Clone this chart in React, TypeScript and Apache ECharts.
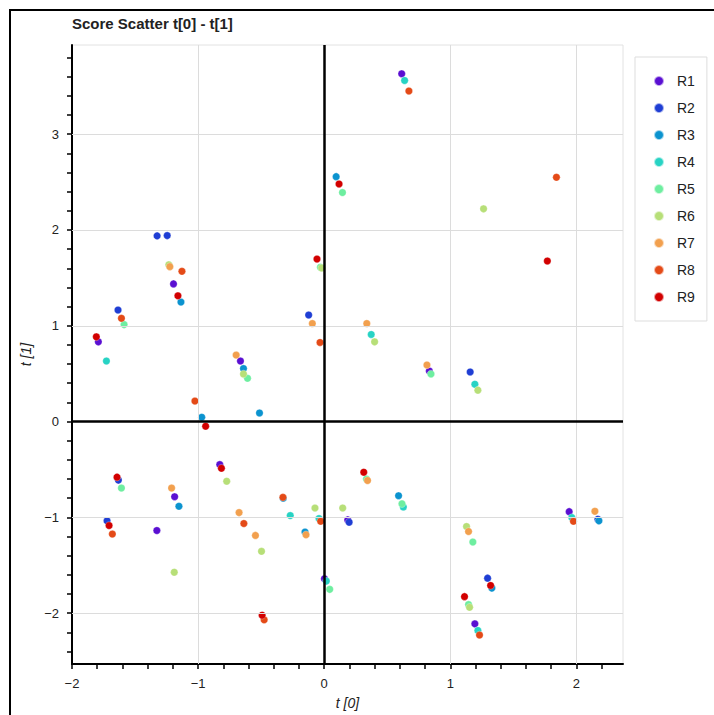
import React, { useEffect, useRef } from "react";
import * as echarts from "echarts";

const seriesNames = ["R1", "R2", "R3", "R4", "R5", "R6", "R7", "R8", "R9"];
const seriesColors = ["#5a0fd2", "#1f3ed4", "#0b93cf", "#27d3c4", "#6eeea0", "#b7df78", "#f2a04e", "#e44a17", "#d20000"];

const r1: number[][] = [[0.615, 3.63], [-1.195, 1.437], [-1.791, 0.832], [-0.664, 0.632], [0.834, 0.528], [-0.828, -0.449], [-1.186, -0.784], [-1.327, -1.137], [0.002, -1.641], [0.187, -1.026], [1.195, -2.111], [1.943, -0.94]];
const r2: number[][] = [[-1.325, 1.938], [-1.245, 1.941], [-1.635, 1.164], [-0.123, 1.112], [1.158, 0.518], [-1.632, -0.611], [-1.722, -1.036], [0.198, -1.05], [1.296, -1.634], [2.171, -1.019]];
const r3: number[][] = [[0.095, 2.556], [-1.136, 1.247], [-0.64, 0.553], [-0.971, 0.045], [-0.513, 0.09], [-1.152, -0.884], [-0.325, -0.8], [-0.152, -1.153], [0.59, -0.774], [1.33, -1.738], [2.179, -1.036]];
const r4: number[][] = [[0.638, 3.56], [-1.727, 0.632], [0.373, 0.909], [1.195, 0.39], [-0.269, -0.981], [-0.041, -1.012], [0.017, -1.665], [0.628, -0.891], [1.219, -2.18], [1.964, -1.002]];
const r5: number[][] = [[0.145, 2.39], [-0.03, 1.61], [-1.587, 1.012], [-0.608, 0.452], [0.847, 0.497], [-1.608, -0.694], [0.044, -1.751], [0.617, -0.857], [1.179, -1.257], [1.145, -1.91], [0.335, -0.6]];
const r6: number[][] = [[1.264, 2.22], [-0.02, 1.603], [-1.232, 1.637], [0.4, 0.832], [1.219, 0.328], [-0.64, 0.497], [-0.773, -0.622], [-1.189, -1.572], [-0.497, -1.354], [-0.073, -0.902], [0.147, -0.902], [1.129, -1.095], [1.153, -1.938]];
const r7: number[][] = [[-1.224, 1.617], [-0.094, 1.023], [0.338, 1.023], [0.815, 0.591], [-0.698, 0.694], [-1.21, -0.694], [-0.675, -0.95], [-0.545, -1.188], [-0.144, -1.181], [0.344, -0.615], [1.145, -1.147], [2.147, -0.936]];
const r8: number[][] = [[0.672, 3.45], [1.842, 2.55], [-0.033, 0.826], [-1.128, 1.568], [-1.608, 1.078], [-1.025, 0.214], [-0.637, -1.064], [-0.476, -2.069], [-0.327, -0.791], [-0.028, -1.04], [-1.68, -1.174], [1.232, -2.228], [1.977, -1.04]];
const r9: number[][] = [[0.118, 2.48], [1.77, 1.676], [-0.057, 1.696], [-1.16, 1.313], [-1.807, 0.884], [-0.94, -0.048], [-0.815, -0.487], [-1.643, -0.58], [-1.706, -1.085], [-0.492, -2.021], [0.314, -0.528], [1.32, -1.71], [1.113, -1.827]];
const seriesData = [r1, r2, r3, r4, r5, r6, r7, r8, r9];

const xMajorTicks = [-2, -1, 0, 1, 2];
const yMajorTicks = [-2, -1, 0, 1, 2, 3];
const xGridLines = [-1, 1, 2];
const yGridLines = [-2, -1, 1, 2, 3];
const X_MIN = -2, X_MAX = 2.37, Y_MIN = -2.53, Y_MAX = 3.93;

function minorTicks(lo: number, hi: number, step: number) {
  const out: number[] = [];
  const start = Math.ceil(lo / step - 1e-9);
  const end = Math.floor(hi / step + 1e-9);
  for (let i = start; i <= end; i++) out.push(Math.round(i * step * 100) / 100);
  return out;
}

const FONT = "'Liberation Sans', Arial, sans-serif";
const fmt = (v: number) => (v < 0 ? "\u2212" + Math.abs(v) : String(v));

export default function App() {
  const ref = useRef<HTMLDivElement>(null);
  useEffect(() => {
    document.body.style.margin = "0";
    const chart = echarts.init(ref.current!, null, { renderer: "svg" });
    const scatter = seriesNames.map((name, i) => ({
      name,
      type: "scatter",
      data: seriesData[i],
      symbolSize: 7.5,
      z: 3,
      itemStyle: { color: seriesColors[i], borderColor: "rgba(255,255,255,0.6)", borderWidth: 0.5, opacity: 1 },
    }));
    const gridLineStyle = { color: "#dcdcdc", width: 1, type: "solid" };
    const zeroLineStyle = { color: "#000", width: 2.5, type: "solid" };
    chart.setOption({
      animation: false,
      textStyle: { fontFamily: FONT },
      title: {
        text: "Score Scatter t[0] - t[1]",
        left: 72,
        top: 16,
        padding: 0,
        textStyle: { fontSize: 15, fontWeight: "bold", color: "#222", fontFamily: FONT },
      },
      legend: {
        data: seriesNames,
        orient: "vertical",
        left: 635,
        top: 57,
        padding: [17, 12, 17, 18],
        itemGap: 13,
        itemWidth: 10,
        itemHeight: 14,
        icon: "circle",
        borderColor: "#dddddd",
        borderWidth: 1,
        textStyle: { fontSize: 14, color: "#222", lineHeight: 14, padding: [0, 0, 0, 8], fontFamily: FONT },
      },
      grid: {
        left: 72,
        right: 91,
        top: 45,
        bottom: 47,
        show: true,
        borderColor: "#e2e2e2",
        borderWidth: 1,
        backgroundColor: "transparent",
      },
      xAxis: {
        type: "value",
        min: X_MIN,
        max: X_MAX,
        name: "t [0]",
        nameLocation: "middle",
        nameGap: 32,
        nameTextStyle: { fontStyle: "italic", fontSize: 14, color: "#222", fontFamily: FONT },
        axisLine: { show: true, onZero: false, lineStyle: { color: "#000", width: 2 } },
        axisTick: { show: true, length: 5, customValues: minorTicks(X_MIN, X_MAX, 0.2), lineStyle: { color: "#000", width: 1.5 } },
        axisLabel: { customValues: xMajorTicks, formatter: fmt, fontSize: 13, color: "#222", margin: 13, fontFamily: FONT },
        splitLine: { show: false },
      },
      yAxis: {
        type: "value",
        min: Y_MIN,
        max: Y_MAX,
        name: "t [1]",
        nameLocation: "middle",
        nameGap: 37,
        nameTextStyle: { fontStyle: "italic", fontSize: 14, color: "#222", fontFamily: FONT },
        axisLine: { show: true, onZero: false, lineStyle: { color: "#000", width: 2 } },
        axisTick: { show: true, length: 5, customValues: minorTicks(Y_MIN, Y_MAX, 0.2), lineStyle: { color: "#000", width: 1.5 } },
        axisLabel: { customValues: yMajorTicks, formatter: fmt, fontSize: 13, color: "#222", margin: 13, fontFamily: FONT },
        splitLine: { show: false },
      },
      graphic: [
        {
          type: "rect",
          shape: { x: 10, y: 10, width: 740, height: 740 },
          style: { fill: "none", stroke: "#000", lineWidth: 2 },
          silent: true,
        },
      ],
      series: [
        {
          name: "_grid",
          type: "scatter",
          data: [],
          z: 1,
          silent: true,
          markLine: {
            silent: true,
            symbol: "none",
            label: { show: false },
            data: [
              ...xGridLines.map((v) => ({ xAxis: v, lineStyle: gridLineStyle })),
              ...yGridLines.map((v) => ({ yAxis: v, lineStyle: gridLineStyle })),
            ],
          },
        },
        {
          name: "_zero",
          type: "scatter",
          data: [],
          z: 2,
          silent: true,
          markLine: {
            silent: true,
            symbol: "none",
            label: { show: false },
            data: [
              { xAxis: 0, lineStyle: zeroLineStyle },
              { yAxis: 0, lineStyle: zeroLineStyle },
            ],
          },
        },
        ...scatter,
      ],
    });
    return () => chart.dispose();
  }, []);
  return <div ref={ref} style={{ width: 714, height: 715 }} />;
}
